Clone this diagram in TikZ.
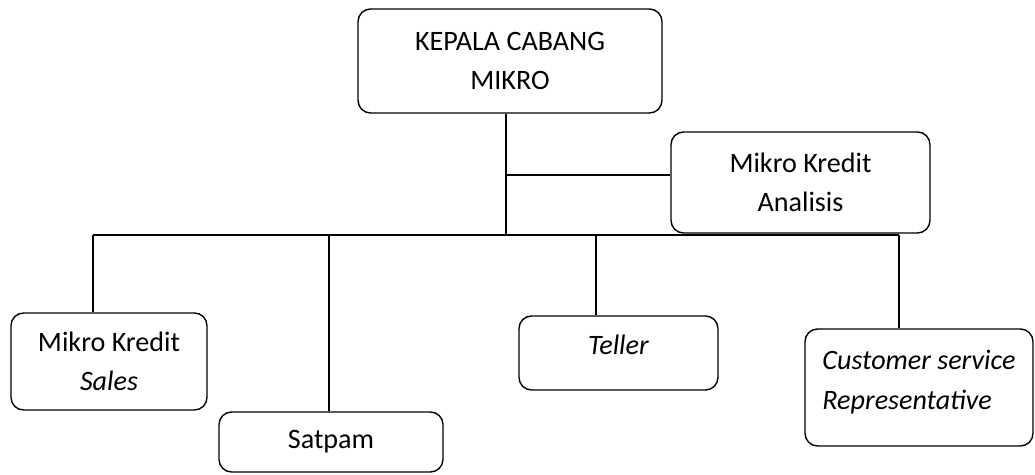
\documentclass[tikz,border=0pt]{standalone}
\usepackage{fontspec}
\setmainfont{Carlito}

\begin{document}
\begin{tikzpicture}[x=0.02cm,y=-0.02cm,
    jabatan/.style={draw,line width=0.8pt,rounded corners=0.25cm,align=center,
        inner sep=0pt,font=\fontsize{16}{22.5}\selectfont},
    garis/.style={line width=0.8pt}]
    \useasboundingbox (0,0) rectangle (1035,475);

    % Kepala cabang
    \node[jabatan,minimum width=6.08cm,minimum height=2.08cm] (kepala) at (510,61) {KEPALA CABANG\\MIKRO};

    % Analis kredit
    \node[jabatan,minimum width=5.18cm,minimum height=2.02cm] (analisis) at (800.5,182.5) {Mikro Kredit\\Analisis};

    % Bawahan
    \node[jabatan,minimum width=3.92cm,minimum height=1.94cm] (sales) at (109,361.5) {Mikro Kredit\\\textit{Sales}};
    \node[jabatan,minimum width=4.48cm,minimum height=1.2cm] (satpam) at (331,442) {Satpam};
    \node[jabatan,text depth=0.32cm,minimum width=3.98cm,minimum height=1.48cm] (teller) at (618.5,353) {\textit{Teller}};
    \node[jabatan,align=left,text depth=0.3cm,minimum width=4.56cm,minimum height=2.34cm] (csr) at (919,387.5) {\textit{Customer service}\\\textit{Representative}};

    % Titik cabang
    \coordinate (trunk) at (506,113);
    \coordinate (bus) at (506,235);
    \coordinate (jAnalisis) at (506,175);
    \coordinate (jSales) at (93,235);
    \coordinate (jSatpam) at (329,235);
    \coordinate (jTeller) at (596,235);
    \coordinate (jCsr) at (899,235);

    % Garis
    \draw[garis] (trunk |- kepala.south) -- (bus);
    \draw[garis] (jAnalisis) -- (jAnalisis -| analisis.west);
    \draw[garis] (jSales) -- (jCsr);
    \draw[garis] (jSales) -- (jSales |- sales.north);
    \draw[garis] (jSatpam) -- (jSatpam |- satpam.north);
    \draw[garis] (jTeller) -- (jTeller |- teller.north);
    \draw[garis] (jCsr) -- (jCsr |- csr.north);
\end{tikzpicture}
\end{document}
